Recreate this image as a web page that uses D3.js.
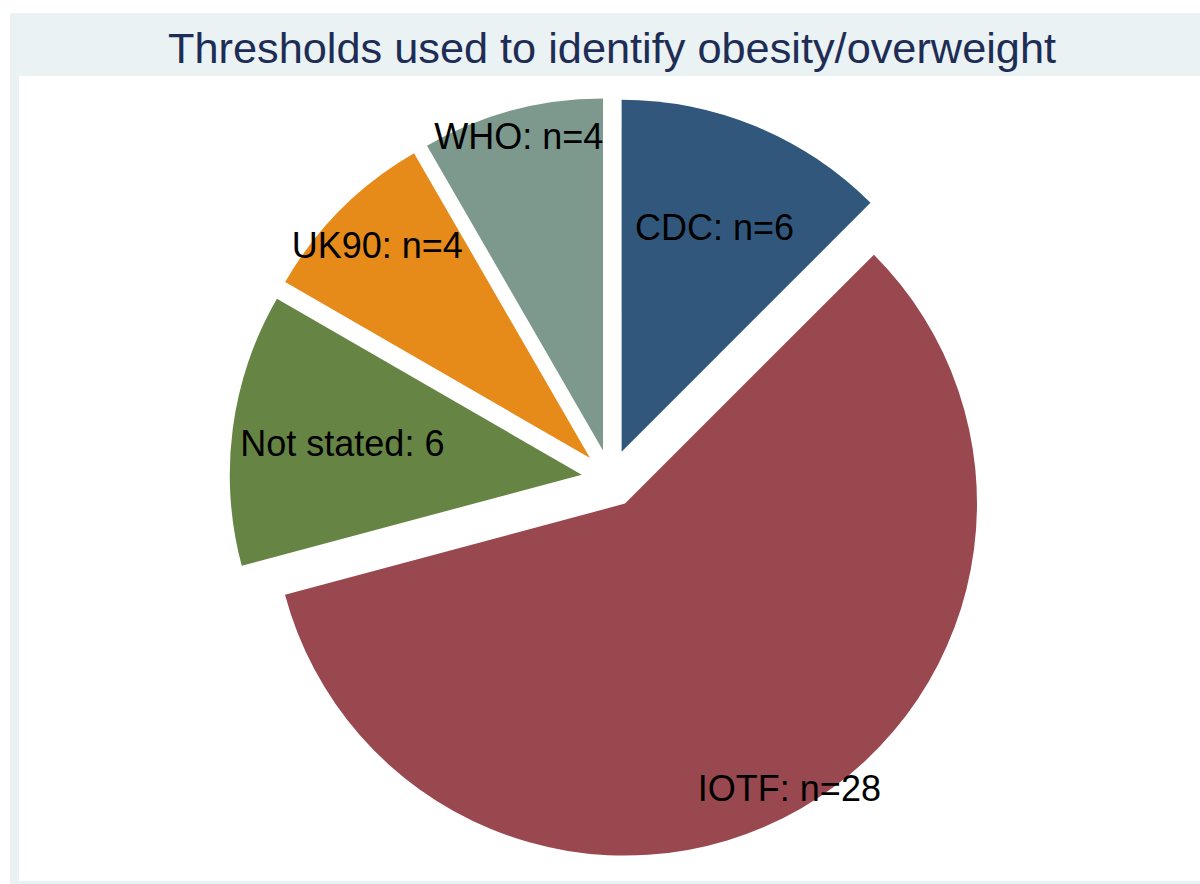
<!DOCTYPE html>
<html lang="en">

<head>
  <title>Thresholds pie</title>
  <meta charset="utf-8">
  <script src="https://cdnjs.cloudflare.com/ajax/libs/d3/7.8.5/d3.min.js"></script>
  <style>
    body {
      margin: 0;
      background: #ffffff;
    }

    .slice-label {
      font-family: "Liberation Sans", Arial, sans-serif;
      font-size: 36px;
      fill: #000000;
    }

    .title {
      font-family: "Liberation Sans", Arial, sans-serif;
      font-size: 43.3px;
      fill: #1e2d55;
    }
  </style>
</head>

<body>
  <svg id="svg"></svg>

  <script>
    // data
    var categories = ["CDC", "IOTF", "Not stated", "UK90", "WHO"];
    var counts = [6, 28, 6, 4, 4];
    var labels = ["CDC: n=6", "IOTF: n=28", "Not stated: 6", "UK90: n=4", "WHO: n=4"];

    // styling
    var colors = ["#31587c", "#9a4850", "#668443", "#e68a1a", "#7d998e"];
    var labelPos = [0.69, 0.934, 0.686, 0.855, 0.924]; // label distance as share of radius

    var width = 1200, height = 884;
    var cx = 610.5, cy = 478.5, radius = 352, explode = 29;

    var svg = d3.select("#svg")
      .attr("width", width)
      .attr("height", height);

    // graph region (light band) and plot region (white)
    svg.append("rect")
      .attr("x", 10).attr("y", 13)
      .attr("width", width - 10).attr("height", height - 13)
      .attr("fill", "#eaf2f3");

    svg.append("rect")
      .attr("x", 19).attr("y", 76)
      .attr("width", width - 19).attr("height", 881 - 76)
      .attr("fill", "#ffffff");

    svg.append("text")
      .attr("class", "title")
      .attr("x", 612)
      .attr("y", 62.5)
      .attr("text-anchor", "middle")
      .text("Thresholds used to identify obesity/overweight");

    var table = categories.map(function (c, i) {
      return { name: c, value: counts[i], label: labels[i], color: colors[i], lp: labelPos[i] };
    });

    var pie = d3.pie()
      .sort(null)
      .value(function (d) { return d.value; });

    var arc = d3.arc()
      .innerRadius(0)
      .outerRadius(radius);

    var g = svg.append("g")
      .attr("transform", "translate(" + cx + "," + cy + ")");

    var slices = g.selectAll("g.slice")
      .data(pie(table))
      .enter().append("g")
      .attr("class", "slice")
      .attr("transform", function (d) {
        var a = (d.startAngle + d.endAngle) / 2;
        return "translate(" + (explode * Math.sin(a)) + "," + (-explode * Math.cos(a)) + ")";
      });

    slices.append("path")
      .attr("d", arc)
      .attr("fill", function (d) { return d.data.color; });

    slices.append("text")
      .attr("class", "slice-label")
      .attr("text-anchor", "middle")
      .attr("dy", "0.36em")
      .attr("x", function (d) {
        var a = (d.startAngle + d.endAngle) / 2;
        return radius * d.data.lp * Math.sin(a);
      })
      .attr("y", function (d) {
        var a = (d.startAngle + d.endAngle) / 2;
        return -radius * d.data.lp * Math.cos(a);
      })
      .text(function (d) { return d.data.label; });
  </script>
</body>

</html>
